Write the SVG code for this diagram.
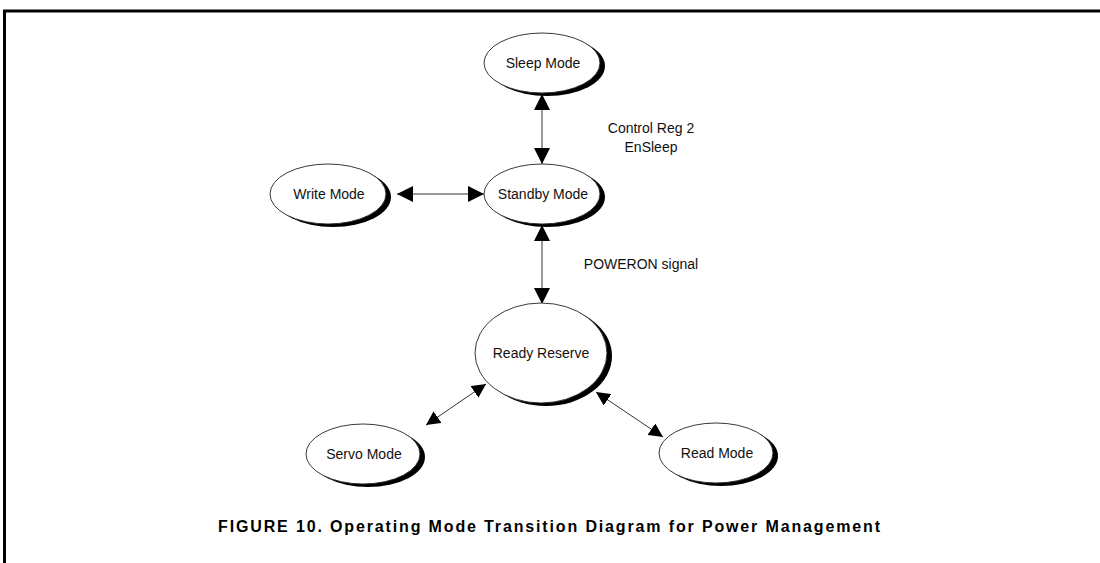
<svg xmlns="http://www.w3.org/2000/svg" width="1100" height="563" viewBox="0 0 1100 563">
<defs>
<marker id="ah" viewBox="0 0 10 10" refX="10" refY="5" markerWidth="16" markerHeight="16" markerUnits="userSpaceOnUse" orient="auto-start-reverse">
<path d="M0,0 L10,5 L0,10 z" fill="#000"/>
</marker>
<marker id="ahs" viewBox="0 0 10 10" refX="10" refY="5" markerWidth="14" markerHeight="14" markerUnits="userSpaceOnUse" orient="auto-start-reverse">
<path d="M0,0 L10,5 L0,10 z" fill="#000"/>
</marker>
</defs>
<style>
.sh{fill:#000}
.el{fill:#fff;stroke:#222;stroke-width:0.9}
.lb{font-family:"Liberation Sans",Arial,sans-serif;font-size:14px;fill:#111;text-anchor:middle;dominant-baseline:central}
.cn{stroke:#333;stroke-width:1;fill:none}
.cap{font-family:"Liberation Sans",Arial,sans-serif;font-size:16px;font-weight:bold;fill:#000}
</style>
<rect width="1100" height="563" fill="#fff"/>
<g id="frame">
<line x1="3" y1="11" x2="1100" y2="11" stroke="#000" stroke-width="3"/>
<line x1="4.5" y1="10" x2="4.5" y2="563" stroke="#000" stroke-width="3"/>
</g>
<g id="connectors">
<line class="cn" x1="542" y1="94" x2="542" y2="164" marker-start="url(#ah)" marker-end="url(#ah)"/>
<line class="cn" x1="397" y1="194" x2="484" y2="194" marker-start="url(#ah)" marker-end="url(#ah)"/>
<line class="cn" x1="542" y1="225" x2="542" y2="304" marker-start="url(#ah)" marker-end="url(#ah)"/>
<line class="cn" x1="486" y1="384" x2="426" y2="425" marker-start="url(#ahs)" marker-end="url(#ahs)"/>
<line class="cn" x1="596" y1="392" x2="663" y2="437" marker-start="url(#ahs)" marker-end="url(#ahs)"/>
</g>
<g id="sleep">
<ellipse class="sh" cx="547" cy="66" rx="58" ry="30"/>
<ellipse class="el" cx="542" cy="63" rx="58" ry="30"/>
<text class="lb" x="543" y="63">Sleep Mode</text>
</g>
<g id="standby">
<ellipse class="sh" cx="547" cy="197" rx="58" ry="30"/>
<ellipse class="el" cx="542" cy="194" rx="58" ry="30"/>
<text class="lb" x="543" y="194">Standby Mode</text>
</g>
<g id="write">
<ellipse class="sh" cx="333" cy="197" rx="58" ry="30"/>
<ellipse class="el" cx="328" cy="194" rx="58" ry="30"/>
<text class="lb" x="329" y="194">Write Mode</text>
</g>
<g id="ready">
<ellipse class="sh" cx="546" cy="356" rx="66" ry="50"/>
<ellipse class="el" cx="541" cy="353" rx="66" ry="50"/>
<text class="lb" x="541" y="353">Ready Reserve</text>
</g>
<g id="servo">
<ellipse class="sh" cx="368" cy="457" rx="57" ry="30"/>
<ellipse class="el" cx="363" cy="454" rx="57" ry="30"/>
<text class="lb" x="364" y="454">Servo Mode</text>
</g>
<g id="read">
<ellipse class="sh" cx="721" cy="456" rx="57" ry="30"/>
<ellipse class="el" cx="716" cy="453" rx="57" ry="30"/>
<text class="lb" x="717" y="453">Read Mode</text>
</g>
<g id="labels">
<text class="lb" x="651" y="128">Control Reg 2</text>
<text class="lb" x="651" y="147">EnSleep</text>
<text class="lb" x="641" y="264">POWERON signal</text>
</g>
<text class="cap" x="218" y="532" textLength="662" lengthAdjust="spacing">FIGURE 10. Operating Mode Transition Diagram for Power Management</text>
</svg>
